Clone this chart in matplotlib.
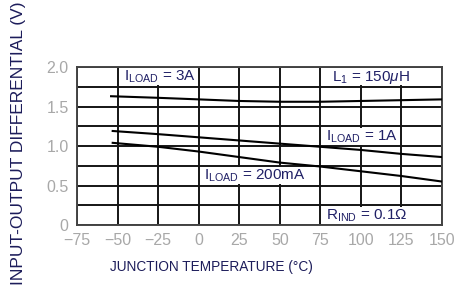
import matplotlib
matplotlib.use("Agg")
import matplotlib.pyplot as plt
from matplotlib.patches import Rectangle
import numpy as np

plt.rcParams['font.family'] = ['Liberation Sans', 'DejaVu Sans']
plt.rcParams['mathtext.fontset'] = 'custom'
plt.rcParams['mathtext.rm'] = 'Liberation Sans'
plt.rcParams['mathtext.it'] = 'Liberation Sans:italic'
plt.rcParams['mathtext.default'] = 'regular'

# Data (junction temperature in degC, differential in V)
temp_3a = [-54, -25, 0, 25, 50, 75, 100, 125, 150]
vdiff_3a = [1.63, 1.61, 1.59, 1.57, 1.56, 1.56, 1.57, 1.58, 1.59]

temp_1a = [-53, -25, 0, 25, 50, 75, 100, 125, 150]
vdiff_1a = [1.19, 1.15, 1.11, 1.07, 1.03, 0.99, 0.95, 0.90, 0.86]

temp_200ma = [-53, -25, 0, 25, 50, 75, 100, 125, 150]
vdiff_200ma = [1.04, 0.99, 0.93, 0.86, 0.79, 0.74, 0.68, 0.62, 0.55]

xticks = [-75, -50, -25, 0, 25, 50, 75, 100, 125, 150]
xticklabels = ['\u221275', '\u221250', '\u221225', '0', '25', '50', '75', '100', '125', '150']
yticks = [0, 0.5, 1.0, 1.5, 2.0]
yticklabels = ['0', '0.5', '1.0', '1.5', '2.0']

fig = plt.figure(figsize=(4.74, 2.85), dpi=100)
ax = fig.add_axes([77/474, 1 - 225/285, (442 - 77)/474, (225 - 67)/285])

ax.set_xlim(-75, 150)
ax.set_ylim(0, 2.0)
ax.set_xticks(xticks)
ax.set_xticklabels(xticklabels)
ax.set_yticks(yticks)
ax.set_yticklabels(yticklabels)
ax.set_yticks(np.arange(0, 2.01, 0.25), minor=True)
ax.tick_params(axis='both', which='both', length=0, labelsize=11.5, labelcolor='#a8a8a8')
ax.tick_params(axis='x', pad=6)
ax.tick_params(axis='y', pad=6)

ax.set_axisbelow(True)
ax.grid(True, which='both', color='#151515', lw=1.4)
for s in ax.spines.values():
    s.set_color('#444444')
    s.set_linewidth(1.4)

# white label cells (cover inner grid lines)
def cell(x0, x1, y0, y1):
    ax.add_patch(Rectangle((x0 + 1.2, y0 + 0.016), (x1 - x0) - 2.4, (y1 - y0) - 0.032,
                           facecolor='white', edgecolor='none', zorder=1))

cell(-50, 0, 1.75, 2.0)
cell(75, 150, 1.75, 2.0)
cell(75, 125, 1.0, 1.25)
cell(0, 75, 0.5, 0.75)
cell(75, 150, 0.0, 0.25)

lc = 'black'
ax.plot(temp_3a, vdiff_3a, color=lc, lw=1.5, zorder=3)
ax.plot(temp_1a, vdiff_1a, color=lc, lw=1.5, zorder=3)
ax.plot(temp_200ma, vdiff_200ma, color=lc, lw=1.5, zorder=3)

tc = '#202066'
fs = 11
ax.text(-46, 1.87, r'I$_{\mathregular{LOAD}}$ = 3A', color=tc, fontsize=fs, va='center', ha='left', zorder=4)
ax.text(82, 1.87, r'L$_1$ = 150$\mathit{\mu}$H', color=tc, fontsize=fs, va='center', ha='left', zorder=4)
ax.text(78.5, 1.12, r'I$_{\mathregular{LOAD}}$ = 1A', color=tc, fontsize=fs, va='center', ha='left', zorder=4)
ax.text(3, 0.62, r'I$_{\mathregular{LOAD}}$ = 200mA', color=tc, fontsize=fs, va='center', ha='left', zorder=4)
ax.text(78.5, 0.12, r'R$_{\mathregular{IND}}$ = 0.1' + '\u03a9', color=tc, fontsize=fs, va='center', ha='left', zorder=4)

fig.text(211/474, 1 - 267/285, 'JUNCTION TEMPERATURE (\u00b0C)', color='#1c1c5a', fontsize=9.8,
         ha='center', va='center')
fig.text(19/474, 1 - 143/285, 'INPUT-OUTPUT DIFFERENTIAL (V)', color='#1c1c5a', fontsize=12.5,
         ha='center', va='center', rotation=90)

fig.savefig('out.png', dpi=100)
